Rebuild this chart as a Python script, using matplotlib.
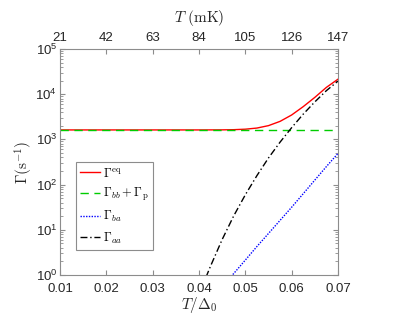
import numpy as np
import matplotlib
matplotlib.use('Agg')
import matplotlib.pyplot as plt

plt.rcParams['font.family'] = ['Liberation Sans', 'DejaVu Sans']
plt.rcParams['mathtext.fontset'] = 'cm'

# 读图得到的数据 (T/Delta0, Gamma in 1/s)
t_eq = [0.01, 0.02, 0.03, 0.04, 0.045, 0.0475, 0.05, 0.0525, 0.055, 0.0575,
        0.06, 0.0625, 0.065, 0.0675, 0.07]
g_eq = [1620, 1620, 1620, 1620, 1626, 1641, 1682, 1782, 2017, 2507,
        3472, 5313, 8506, 14171, 21500]

t_bbp = [0.01, 0.07]
g_bbp = [1620, 1620]

t_ba = [0.0465, 0.0475, 0.05, 0.0525, 0.055, 0.0575, 0.06, 0.0625, 0.065, 0.0675, 0.07]
g_ba = [0.83, 1.08, 2.14, 4.27, 8.3, 16.2, 31.6, 63, 126, 251, 490]

t_aa = [0.0415, 0.0425, 0.045, 0.0475, 0.05, 0.0525, 0.055, 0.0575, 0.06,
        0.0625, 0.065, 0.0675, 0.07]
g_aa = [0.89, 1.58, 6.1, 20.4, 59.6, 158, 389, 871, 1820, 3630, 6760, 12000, 19500]

x_ticks = [0.01, 0.02, 0.03, 0.04, 0.05, 0.06, 0.07]
x_ticklabels = ['0.01', '0.02', '0.03', '0.04', '0.05', '0.06', '0.07']
top_ticklabels = ['21', '42', '63', '84', '105', '126', '147']

fig = plt.figure(figsize=(3.99, 3.25), dpi=100)
ax = fig.add_axes([60 / 399, 50 / 325, 278 / 399, 226 / 325])

ax.plot(t_eq, g_eq, color='#ff0000', lw=1.0, label=r'$\Gamma^{\rm eq}$')
ax.plot(t_bbp, g_bbp, color='#00cc00', lw=1.0, ls=(0, (6, 4)), label=r'$\Gamma_{bb}+\Gamma_{\rm p}$')
ax.plot(t_ba, g_ba, color='#0000ff', lw=1.0, ls=(0, (1, 1)), label=r'$\Gamma_{ba}$')
ax.plot(t_aa, g_aa, color='k', lw=1.0, ls=(0, (5, 2, 1, 2)), label=r'$\Gamma_{aa}$')

ax.set_yscale('log')
ax.set_xlim(0.01, 0.07)
ax.set_ylim(1, 1e5)
ax.set_xticks(x_ticks)
ax.set_xticklabels(x_ticklabels)
ax.set_yticks([1, 10, 100, 1e3, 1e4, 1e5])
ax.set_yticklabels([r'$\mathregular{10^{%d}}$' % i for i in range(6)])

frame_c = '#8c8c8c'
for s in ax.spines.values():
    s.set_color(frame_c)
    s.set_linewidth(0.8)
ax.tick_params(which='both', direction='in', right=True, color=frame_c,
               labelsize=9.5, labelcolor='#262626')
ax.tick_params(which='major', length=3.5)
ax.tick_params(which='minor', length=2)
ax.tick_params(axis='y', pad=2)
ax.tick_params(axis='x', pad=6)

ax.set_xlabel(r'$T/\Delta_0$', fontsize=11, color='#262626', labelpad=0)
ax.set_ylabel(r'$\Gamma(\mathrm{s}^{-1})$', fontsize=11, color='#262626', labelpad=0)

ax2 = ax.twiny()
ax2.set_xlim(0.01, 0.07)
ax2.set_xticks(x_ticks)
ax2.set_xticklabels(top_ticklabels)
ax2.tick_params(direction='in', color=frame_c, labelsize=9.5, labelcolor='#262626', length=3.5)
for s in ax2.spines.values():
    s.set_visible(False)
ax2.set_xlabel(r'$T\ (\mathrm{mK})$', fontsize=11, color='#262626', labelpad=7)

leg = ax.legend(loc='lower left', bbox_to_anchor=(0.057, 0.11), fontsize=9,
                fancybox=False, framealpha=1, edgecolor=frame_c,
                handlelength=1.6, handletextpad=0.2, borderpad=0.35,
                labelspacing=0.5, borderaxespad=0)
leg.get_frame().set_linewidth(0.8)

fig.savefig('out.png', dpi=100)
